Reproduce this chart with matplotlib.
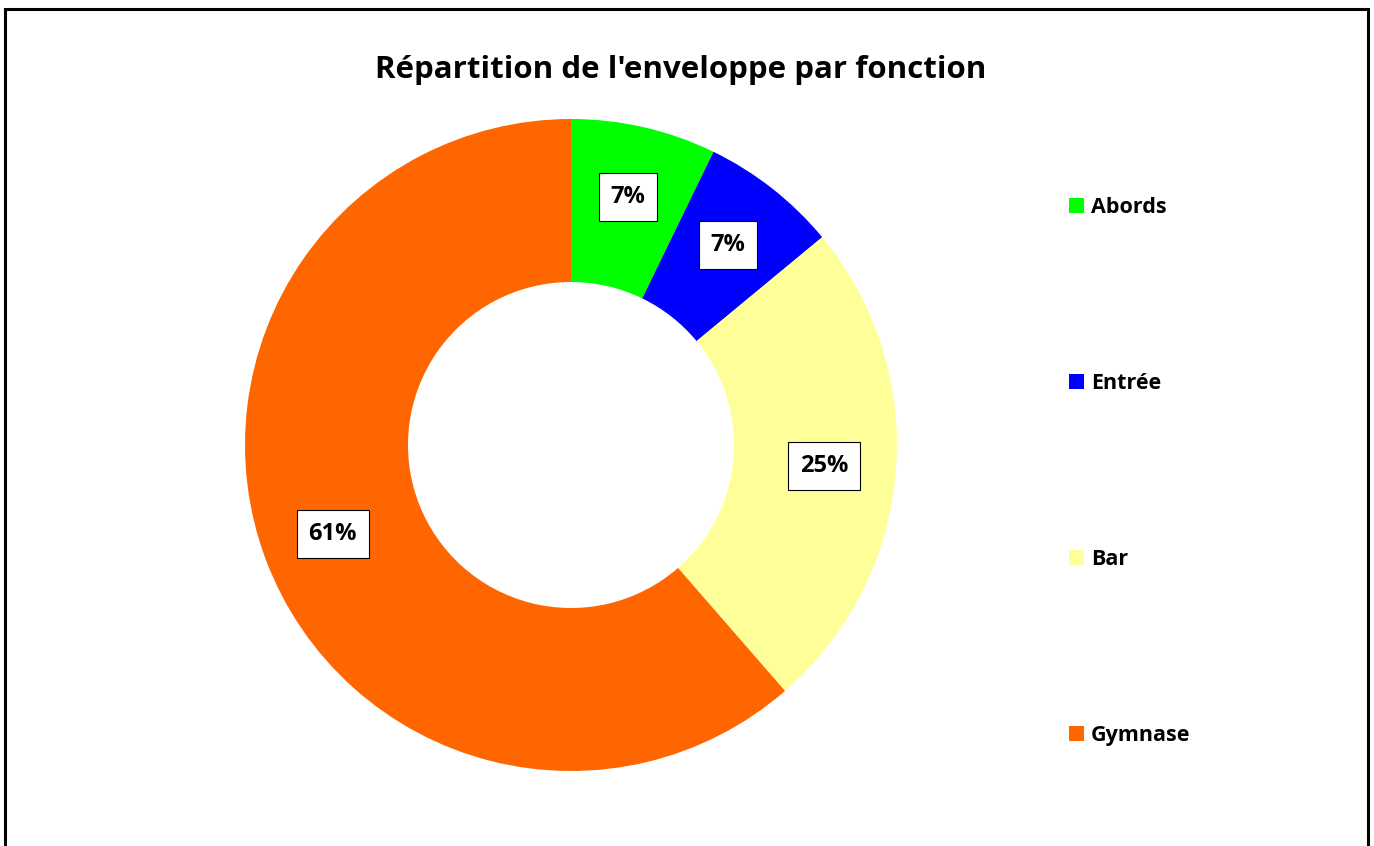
import matplotlib.pyplot as plt
from matplotlib.patches import Rectangle

# données
categories = ["Abords", "Entrée", "Bar", "Gymnase"]
values = [7.2, 6.8, 24.6, 61.4]
colors = ["#00FF00", "#0000FF", "#FFFF99", "#FF6600"]
title = "Répartition de l'enveloppe par fonction"

plt.rcParams["font.family"] = ["Open Sans", "DejaVu Sans"]

W, H = 1374, 846
fig = plt.figure(figsize=(W / 100, H / 100), dpi=100)

# cadre du graphique (bas coupé)
fig.add_artist(Rectangle((5 / W, -0.05), (1368 - 5) / W, 1.05 - 9 / H,
                         transform=fig.transFigure, fill=False,
                         edgecolor="black", linewidth=2.2))

cx, cy, r = 571, 445, 326
ax = fig.add_axes([(cx - r) / W, (H - cy - r) / H, 2 * r / W, 2 * r / H])

wedges, texts, autotexts = ax.pie(
    values, colors=colors, startangle=90, counterclock=False,
    autopct="%1.0f%%", pctdistance=0.78,
    wedgeprops=dict(width=0.5, linewidth=0),
    textprops=dict(fontsize=17, fontweight="bold", color="black"),
)
for t in autotexts:
    t.set_bbox(dict(boxstyle="square,pad=0.5", facecolor="white",
                    edgecolor="black", linewidth=0.8))
ax.set_xlim(-1, 1)
ax.set_ylim(-1, 1)
ax.set_aspect("equal")
ax.axis("off")

fig.text(681 / W, 1 - 70 / H, title, ha="center", va="center",
         fontsize=22.5, fontweight="bold")

leg = fig.legend(wedges, categories, loc="upper left",
                 bbox_to_anchor=(1060 / W, 1 - 188 / H),
                 frameon=False,
                 prop=dict(weight="bold", size=15.5),
                 handlelength=0.7, handleheight=0.7, handletextpad=0.35,
                 labelspacing=7.2, borderaxespad=0)

fig.savefig("out.png", dpi=100)
